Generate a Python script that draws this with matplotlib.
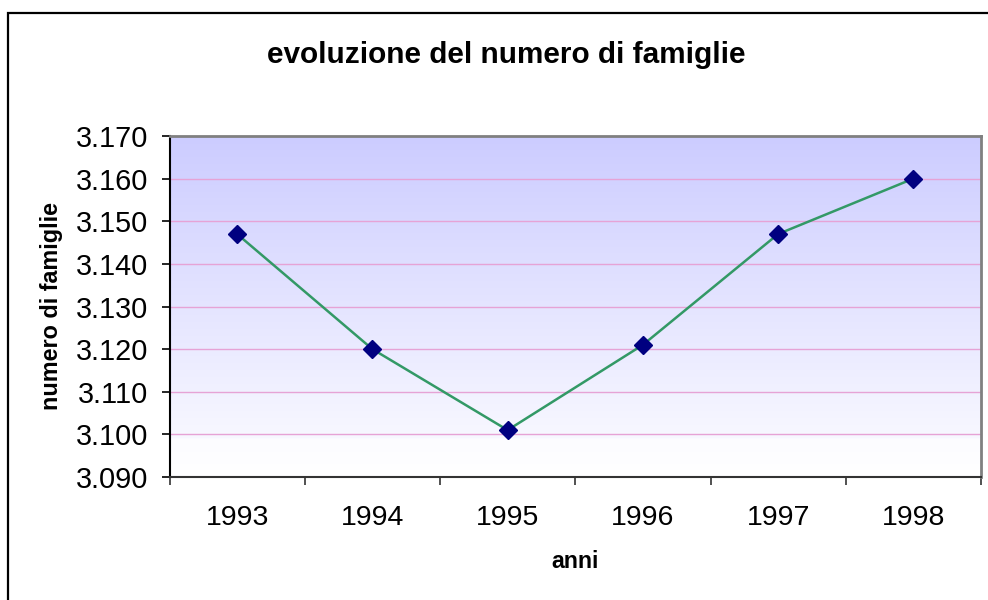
import matplotlib
matplotlib.use("Agg")
import matplotlib.pyplot as plt
import numpy as np
from matplotlib.ticker import FuncFormatter, FixedLocator
from matplotlib.patches import Rectangle
from matplotlib.colors import LinearSegmentedColormap

years = ["1993", "1994", "1995", "1996", "1997", "1998"]
famiglie = [3147, 3120, 3101, 3121, 3147, 3160]
y_ticks = [3090, 3100, 3110, 3120, 3130, 3140, 3150, 3160, 3170]

title = "evoluzione del numero di famiglie"
xlabel = "anni"
ylabel = "numero di famiglie"

plt.rcParams['font.family'] = ['Liberation Sans', 'DejaVu Sans']

W, H = 988, 600
fig = plt.figure(figsize=(W / 100, H / 100), dpi=100)
fig.patch.set_facecolor("white")

# outer frame (left and top visible, extends off canvas)
fig.add_artist(Rectangle((7.5 / W, -0.1), 1.2, 1 - 12.5 / H + 0.1, transform=fig.transFigure,
                         fill=False, edgecolor="black", linewidth=1.6))

L, R, T, B = 169.5, 981, 136, 477
ax = fig.add_axes([L / W, 1 - B / H, (R - L) / W, (B - T) / H])

x = np.arange(len(years))
ax.set_xlim(-0.5, len(years) - 0.5)
ax.set_ylim(y_ticks[0], y_ticks[-1])

# gradient background
grad = np.linspace(0, 1, 256).reshape(-1, 1)
cmap = LinearSegmentedColormap.from_list("g", [(0.0, "#ffffff"), (0.11, "#fcfcff"), (0.111, "#f8f8ff"), (1.0, "#ccccff")])
ax.imshow(grad, aspect="auto", cmap=cmap, origin="lower",
          extent=[-0.5, len(years) - 0.5, y_ticks[0], y_ticks[-1]], zorder=0)

for yv in y_ticks[1:-1]:
    ax.axhline(yv, color="#e6a3d6", linewidth=1.0, zorder=1)

ax.plot(x, famiglie, color="#339966", linewidth=1.8, zorder=3)
ax.plot(x, famiglie, linestyle="none", marker="D", markersize=9,
        markerfacecolor="#000080", markeredgecolor="#000080", zorder=4)

ax.yaxis.set_major_locator(FixedLocator(y_ticks))
ax.yaxis.set_major_formatter(FuncFormatter(lambda v, p: f"{int(round(v)):,}".replace(",", ".")))
ax.set_xticks(x)
ax.set_xticklabels(years)
ax.set_xticks(np.arange(-0.5, len(years), 1.0), minor=True)

ax.tick_params(axis="y", which="major", direction="out", length=5.8, width=1.2, pad=9.7,
               labelsize=20.8, colors="black")
ax.tick_params(axis="x", which="major", length=0, pad=20.5, labelsize=20.5)
ax.tick_params(axis="x", which="minor", direction="out", length=5.8, width=1.2, color="#333333")

for side in ["top", "right"]:
    ax.spines[side].set_color("#808080")
    ax.spines[side].set_linewidth(2.0)
ax.spines["left"].set_color("black")
ax.spines["left"].set_linewidth(1.5)
ax.spines["bottom"].set_color("#333333")
ax.spines["bottom"].set_linewidth(1.5)

fig.text(506.5 / W, 1 - 55 / H, title, ha="center", va="center",
         fontsize=21.4, fontweight="bold")
fig.text(575 / W, 1 - 562 / H, xlabel, ha="center", va="center", fontsize=16.7, fontweight="bold")
fig.text(52 / W, 1 - 306 / H, ylabel, ha="center", va="center", rotation=90,
         fontsize=16.8, fontweight="bold")

fig.savefig("out.png", dpi=100)
